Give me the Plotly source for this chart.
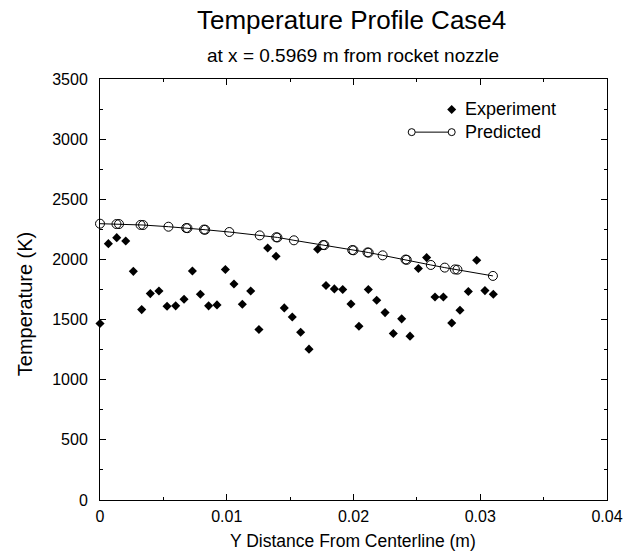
import plotly.graph_objects as go

# ---- data ----
exp_y = [0.0, 0.00066, 0.00132, 0.00203, 0.00263, 0.00329, 0.00397, 0.00465, 0.00529,
         0.00597, 0.00663, 0.00729, 0.00792, 0.00857, 0.00923, 0.00989, 0.01057, 0.01123,
         0.01189, 0.01254, 0.01323, 0.01389, 0.01454, 0.01517, 0.01583, 0.01649, 0.01717,
         0.01783, 0.01849, 0.01915, 0.0198, 0.02043, 0.02117, 0.02183, 0.02249, 0.02314,
         0.0238, 0.02446, 0.02512, 0.02577, 0.02643, 0.02709, 0.02775, 0.0284, 0.02906,
         0.02972, 0.03037, 0.03103]
exp_T = [1467, 2131, 2181, 2153, 1901, 1583, 1716, 1738, 1611,
         1614, 1669, 1904, 1711, 1614, 1622, 1916, 1796, 1627,
         1738, 1417, 2095, 2026, 1597, 1522, 1395, 1254, 2084,
         1783, 1755, 1750, 1630, 1445, 1750, 1661, 1558, 1384,
         1506, 1362, 1924, 2015, 1688, 1688, 1472, 1578, 1733,
         1993, 1741, 1711]

pred_y = [0.0, 0.0013, 0.0015, 0.0032, 0.0034, 0.0054, 0.0068, 0.0069, 0.0082, 0.0083,
          0.0102, 0.0126, 0.0139, 0.0140, 0.0153, 0.0176, 0.0177, 0.0199, 0.0200, 0.0211,
          0.0212, 0.0223, 0.0241, 0.0242, 0.0261, 0.0272, 0.0280, 0.0282, 0.0310]
pred_T = [2297, 2294, 2294, 2287, 2286, 2272, 2261, 2260, 2248, 2247,
          2228, 2200, 2184, 2183, 2159, 2120, 2119, 2078, 2076, 2058,
          2057, 2034, 1999, 1997, 1954, 1932, 1917, 1915, 1863]

x_ticks = [0, 0.01, 0.02, 0.03, 0.04]
x_ticklabels = ["0", "0.01", "0.02", "0.03", "0.04"]
y_ticks = [0, 500, 1000, 1500, 2000, 2500, 3000, 3500]

title = "Temperature Profile Case4"
subtitle = "at x = 0.5969 m from rocket nozzle"
xtitle = "Y Distance From Centerline (m)"
ytitle = "Temperature (K)"

# ---- layout geometry (screen pixels) ----
W, H = 634, 552
L, R, T, B = 100, 607, 78.5, 500
FONT = "Liberation Sans, Arial, sans-serif"


def px(x):
    return (x - L) / (R - L)


def py(y):
    return (B - y) / (B - T)


fig = go.Figure()
fig.add_trace(go.Scatter(
    x=exp_y, y=exp_T, mode="markers", name="Experiment",
    marker=dict(symbol="diamond", size=7, color="black", line=dict(width=0)),
    cliponaxis=False,
))
fig.add_trace(go.Scatter(
    x=pred_y, y=pred_T, mode="lines+markers", name="Predicted",
    line=dict(color="black", width=1),
    marker=dict(symbol="circle-open", size=9, color="black", line=dict(width=1)),
    cliponaxis=False,
))

axis_common = dict(
    showline=True, linecolor="black", linewidth=1, mirror="allticks",
    ticks="inside", ticklen=6, tickcolor="black", tickwidth=1,
    showgrid=False, zeroline=False,
    tickfont=dict(family=FONT, size=16, color="black"),
)

fig.update_xaxes(range=[0, 0.04], tickvals=x_ticks, ticktext=x_ticklabels,
                 minor=dict(dtick=0.005, ticks="inside", ticklen=3, tickcolor="black", showgrid=False),
                 ticklabelstandoff=2, **axis_common)
fig.update_yaxes(range=[0, 3500], tickvals=y_ticks,
                 minor=dict(dtick=250, ticks="inside", ticklen=3, tickcolor="black", showgrid=False),
                 ticklabelstandoff=8, **axis_common)

annotations = [
    dict(text=title, x=px(351), y=py(19), font=dict(size=26)),
    dict(text=subtitle, x=px(353), y=py(55), font=dict(size=19)),
    dict(text=xtitle, x=px(353), y=py(541), font=dict(size=17.5)),
    dict(text=ytitle, x=px(25), y=py(304), font=dict(size=20), textangle=-90),
    dict(text="Experiment", x=px(463), y=py(109), font=dict(size=18), xanchor="left"),
    dict(text="Predicted", x=px(463), y=py(131.5), font=dict(size=18), xanchor="left"),
]
for a in annotations:
    a.setdefault("xanchor", "center")
    a.update(xref="paper", yref="paper", yanchor="middle", showarrow=False)
    a["font"].update(family=FONT, color="black")

shapes = []
# legend: diamond for Experiment
shapes.append(dict(type="path", xref="paper", yref="paper", xsizemode="pixel", ysizemode="pixel",
                   xanchor=px(451.7), yanchor=py(109), path="M 0,4.5 L 4.5,0 L 0,-4.5 L -4.5,0 Z",
                   fillcolor="black", line=dict(width=0)))
# legend: line + two circles for Predicted
shapes.append(dict(type="line", xref="paper", yref="paper", x0=px(411.7), x1=px(451.7),
                   y0=py(131.7), y1=py(131.7), line=dict(color="black", width=1)))
for cx in (411.7, 451.7):
    shapes.append(dict(type="circle", xref="paper", yref="paper", xsizemode="pixel", ysizemode="pixel",
                       xanchor=px(cx), yanchor=py(131.7), x0=-3.5, x1=3.5, y0=-3.5, y1=3.5,
                       fillcolor="white", line=dict(color="black", width=1)))

fig.update_layout(
    width=W, height=H,
    margin=dict(l=L, r=W - R, t=T, b=H - B, pad=0),
    paper_bgcolor="white", plot_bgcolor="white",
    showlegend=False,
    annotations=annotations,
    shapes=shapes,
    font=dict(family=FONT, color="black"),
)

fig.write_html("out.html",
               config={"displayModeBar": False},
               post_script="document.body.style.margin='0';document.body.style.overflow='hidden';")
